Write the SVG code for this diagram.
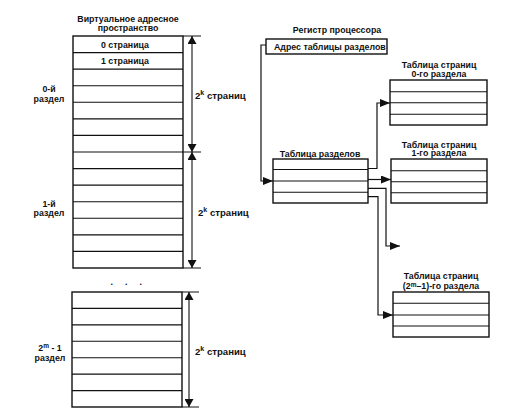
<svg xmlns="http://www.w3.org/2000/svg" width="514" height="412" viewBox="0 0 514 412">
<defs>
<style>
text{font-family:"Liberation Sans",Arial,sans-serif;font-weight:bold;font-size:8.8px;fill:#111}
.c{text-anchor:middle}
.dim{font-size:9.6px}
.box{fill:#fff;stroke:#111;stroke-width:1.4}
.ln{stroke:#111;stroke-width:1.1;fill:none}
.cn{stroke:#111;stroke-width:1.2;fill:none}
</style>
<marker id="ah" viewBox="0 0 10 8" refX="10" refY="4" markerWidth="10" markerHeight="8" markerUnits="userSpaceOnUse" orient="auto">
<path d="M0,0 L10,4 L0,8 z" fill="#111"/>
</marker>
<marker id="dh" viewBox="0 0 8 9" refX="8" refY="4.5" markerWidth="8" markerHeight="9" markerUnits="userSpaceOnUse" orient="auto-start-reverse">
<path d="M0,0 L8,4.5 L0,9 z" fill="#111"/>
</marker>
</defs>
<rect width="514" height="412" fill="#fff"/>

<g id="virtual-space">
<text class="c" x="128" y="22">Виртуальное адресное</text>
<text class="c" x="128" y="31">пространство</text>
<rect class="box" x="73" y="36" width="110" height="232"/>
<path class="ln" d="M73,52.6H183M73,69.1H183M73,85.7H183M73,102.3H183M73,118.9H183M73,135.4H183M73,152H183M73,168.6H183M73,185.1H183M73,201.7H183M73,218.3H183M73,234.9H183M73,251.4H183"/>
<text class="c" x="125" y="47.5">0 страница</text>
<text class="c" x="125" y="64">1 страница</text>
<text class="c" x="49" y="92">0-й</text>
<text class="c" x="49" y="101.5">раздел</text>
<text class="c" x="49" y="206.5">1-й</text>
<text class="c" x="49" y="216">раздел</text>
<text x="110.5" y="285" font-size="13" letter-spacing="12">...</text>
<rect class="box" x="72" y="292" width="110" height="115"/>
<path class="ln" d="M72,308.4H182M72,324.9H182M72,341.3H182M72,357.7H182M72,374.1H182M72,390.6H182"/>
<text class="c" x="50" y="350.5">2<tspan font-size="6.5" dy="-3">m</tspan><tspan dy="3"> - 1</tspan></text>
<text class="c" x="50" y="361">раздел</text>
</g>

<g id="dimensions">
<path class="ln" d="M183,36H201M183,152H201M183,268H201M182,292H199M182,407H199"/>
<line class="ln" x1="192" y1="36" x2="192" y2="152" marker-start="url(#dh)" marker-end="url(#dh)"/>
<line class="ln" x1="192" y1="152" x2="192" y2="268" marker-start="url(#dh)" marker-end="url(#dh)"/>
<line class="ln" x1="189" y1="292" x2="189" y2="407" marker-start="url(#dh)" marker-end="url(#dh)"/>
<text class="dim" x="195" y="99">2<tspan font-size="7" dy="-4">k</tspan><tspan dy="4"> страниц</tspan></text>
<text class="dim" x="198" y="216">2<tspan font-size="7" dy="-4">k</tspan><tspan dy="4"> страниц</tspan></text>
<text class="dim" x="195" y="355">2<tspan font-size="7" dy="-4">k</tspan><tspan dy="4"> страниц</tspan></text>
</g>

<g id="register">
<text class="c" x="337" y="33">Регистр процессора</text>
<rect class="box" x="266" y="39" width="121" height="15"/>
<text x="274" y="50">Адрес таблицы разделов</text>
</g>

<g id="partition-table">
<text class="c" x="320" y="156.5">Таблица разделов</text>
<rect class="box" x="273" y="159" width="95" height="44"/>
<path class="ln" d="M273,169.5H368M273,181H368M273,192.3H368"/>
</g>

<g id="page-table-0">
<text class="c" x="439" y="68">Таблица страниц</text>
<text class="c" x="439" y="76.5">0-го раздела</text>
<rect class="box" x="390" y="80" width="97" height="45"/>
<path class="ln" d="M390,91.7H487M390,102.8H487M390,114.2H487"/>
</g>

<g id="page-table-1">
<text class="c" x="439" y="147.5">Таблица страниц</text>
<text class="c" x="439" y="156">1-го раздела</text>
<rect class="box" x="391" y="159" width="96" height="44"/>
<path class="ln" d="M391,170.7H487M391,181.7H487M391,192.7H487"/>
</g>

<g id="page-table-m">
<text class="c" x="441" y="279">Таблица страниц</text>
<text class="c" x="441" y="289">(2<tspan font-size="6.5" dy="-2.5">m</tspan><tspan dy="2.5">–1)-го раздела</tspan></text>
<rect class="box" x="393" y="292" width="96" height="45"/>
<path class="ln" d="M393,303.3H489M393,315H489M393,326H489"/>
</g>

<g id="connectors">
<polyline class="cn" points="266,45 261,45 261,181 273,181" marker-end="url(#ah)"/>
<polyline class="cn" points="368,168.5 377,168.5 377,103 390,103" marker-end="url(#ah)"/>
<polyline class="cn" points="368,179.5 391,179.5" marker-end="url(#ah)"/>
<polyline class="cn" points="368,188.3 386,188.3 386,246 400,246" marker-end="url(#ah)"/>
<polyline class="cn" points="368,196.7 378,196.7 378,315 393,315" marker-end="url(#ah)"/>
</g>
</svg>
